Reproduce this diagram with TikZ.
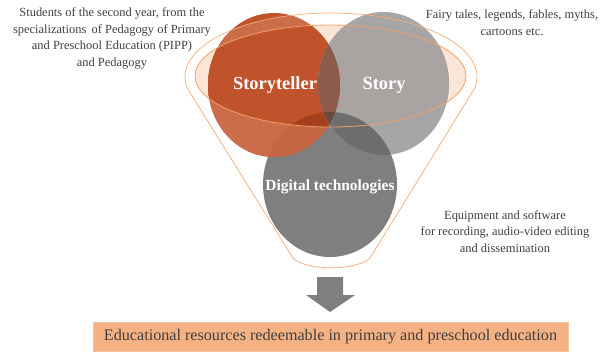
\documentclass[tikz,border=0pt]{standalone}
\usepackage{fontspec}
\setmainfont{Liberation Serif}
\definecolor{txtgray}{HTML}{404040}
\definecolor{peach}{HTML}{FBE5D6}
\definecolor{rimline}{HTML}{F2A06A}
\definecolor{funline}{HTML}{F4AA78}
\definecolor{sUnlit}{HTML}{C0532B}
\definecolor{sLit}{HTML}{CD6C4A}
\definecolor{sdLit}{HTML}{C46544}
\definecolor{sdIn}{HTML}{A5401F}
\definecolor{tGray}{HTML}{A6A6A6}
\definecolor{tIn}{HTML}{A9A4A2}
\definecolor{stLit}{HTML}{9C6A59}
\definecolor{stIn}{HTML}{8E5B4B}
\definecolor{tdGray}{HTML}{6E6E6E}
\definecolor{stdMix}{HTML}{6B4A40}
\definecolor{dGray}{HTML}{7F7F7F}
\definecolor{boxfill}{HTML}{F4B183}
\definecolor{boxline}{HTML}{F6C3A0}
\begin{document}
\begin{tikzpicture}[x=1bp,y=1bp,
  note/.style={font=\fontsize{12.5}{16.5}\selectfont, text=txtgray, align=center, inner sep=0pt},
  vennlabel/.style={font=\bfseries\fontsize{18.5}{20}\selectfont, text=white, inner sep=0pt},
  rim/.style={draw=rimline, line width=0.8bp},
  funnelline/.style={draw=funline, line width=0.7bp}]
\useasboundingbox (0,0) rectangle (608,-352);

% the three circles and the funnel, as reusable paths
\def\pS{(274,-85) ellipse [x radius=66, y radius=72]}
\def\pT{(383.5,-83.5) ellipse [x radius=65.5, y radius=71.5]}
\def\pD{(330,-184.5) ellipse [x radius=67, y radius=72.5]}
\def\pI{(330.5,-76) ellipse [x radius=135.5, y radius=51]}
\def\pF{(293,-258) -- (187.2,-88.1) arc[start angle=190, end angle=-10, x radius=146, y radius=64] -- (370,-258) .. controls (357,-271) and (305,-271) .. (293,-258) -- cycle}

% rim of the funnel (behind the circles)
\fill[peach] \pI;

% Digital technologies, then Storyteller
\fill[dGray] \pD;
\fill[sUnlit] \pS;
\begin{scope}\clip \pF; \fill[sLit] \pS; \end{scope}
\begin{scope}\clip \pF; \clip \pS; \fill[sdLit] \pD; \end{scope}
\begin{scope}\clip \pI; \fill[sUnlit] \pS; \end{scope}
\begin{scope}\clip \pI; \clip \pS; \fill[sdIn] \pD; \end{scope}

% Story and the overlaps
\fill[tGray] \pT;
\begin{scope}\clip \pI; \fill[tIn] \pT; \end{scope}
\begin{scope}\clip \pT; \fill[stLit] \pS; \end{scope}
\begin{scope}\clip \pT; \clip \pI; \fill[stIn] \pS; \end{scope}
\begin{scope}\clip \pT; \fill[tdGray] \pD; \end{scope}
\begin{scope}\clip \pT; \clip \pS; \fill[stdMix] \pD; \end{scope}

% funnel outlines
\path[funnelline] \pF;
\path[rim] \pI;

% circle labels
\node[vennlabel] (teller) at (275,-85) {Storyteller};
\node[vennlabel] (story) at (384,-85) {Story};
\node[vennlabel, font=\bfseries\fontsize{15.5}{18}\selectfont] (digital) at (330,-187) {Digital technologies};

% side notes
\node[note] (students) at (112,-38.5) {Students of the second year, from the\\specializations\, of Pedagogy of Primary\\and Preschool Education (PIPP)\\and Pedagogy};
\node[note] (tales) at (512,-22.5) {Fairy tales, legends, fables, myths,\\cartoons etc.};
\node[note] (equip) at (505,-231.5) {Equipment and software\\for recording, audio-video editing\\and dissemination};

% outcome arrow and box
\coordinate (arrowtop) at (330,-277);
\fill[dGray] (317,-277) -- (343,-277) -- (343,-295) -- (355,-295) -- (330,-312) -- (306,-295) -- (317,-295) -- cycle;
\node[draw=boxline, line width=0.5bp, fill=boxfill, minimum width=475bp, minimum height=29bp, inner sep=0pt,
      font=\fontsize{16.2}{18}\selectfont, text=txtgray] (result) at (330.5,-336.5)
  {Educational resources redeemable in primary and preschool education};
\end{tikzpicture}
\end{document}
